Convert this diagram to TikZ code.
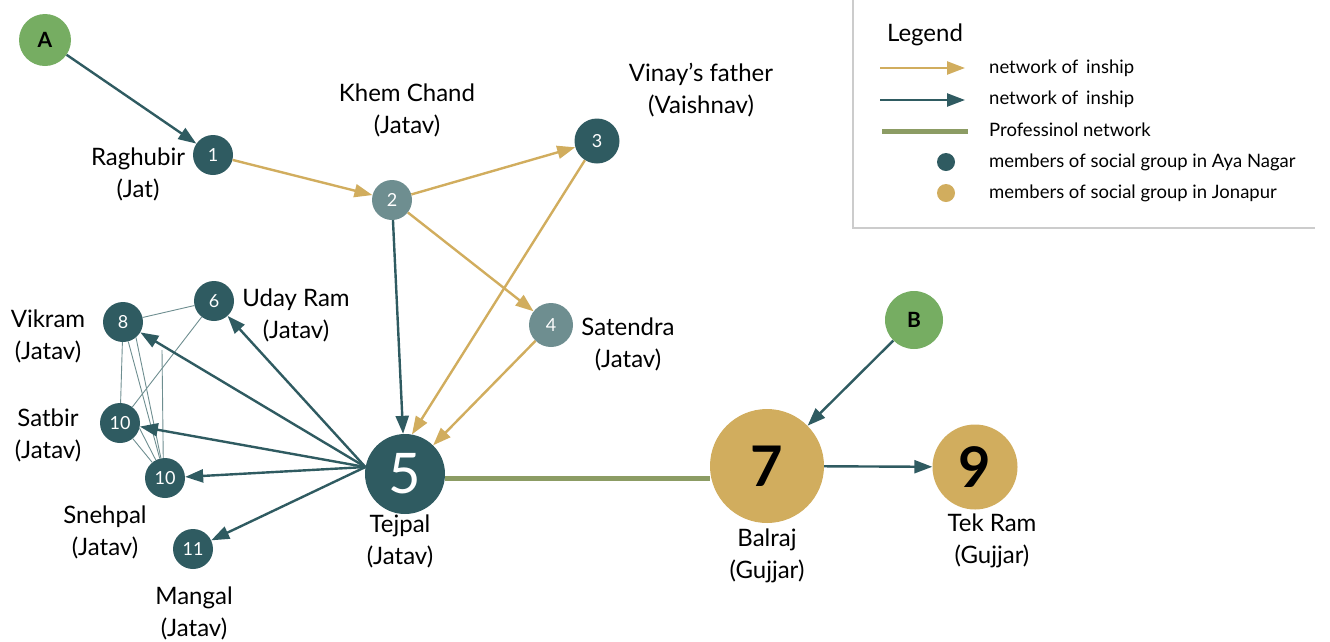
\documentclass[tikz,border=0pt]{standalone}
\usepackage{fontspec}
\setmainfont{Lato}
\usetikzlibrary{arrows.meta,positioning}
\definecolor{ayateal}{HTML}{2F5B61}
\definecolor{ayagrey}{HTML}{6E8E90}
\definecolor{jonagold}{HTML}{D1AD5E}
\definecolor{seedgreen}{HTML}{76AD62}
\definecolor{profgreen}{HTML}{8C9C64}
\definecolor{boxgrey}{HTML}{CCCCCC}
\begin{document}
\begin{tikzpicture}[x=1pt, y=-1pt,
        person/.style={circle, fill=ayateal, text=white, inner sep=0pt, minimum size=40pt, font=\fontsize{18}{18}\selectfont},
        guest/.style={person, fill=ayagrey},
        seed/.style={circle, fill=seedgreen, inner sep=0pt, font=\bfseries\fontsize{21}{21}\selectfont},
        big/.style={circle, inner sep=0pt, font=\fontsize{56}{56}\selectfont},
        who/.style={align=center, inner sep=0pt, font=\fontsize{24}{32}\selectfont},
        key/.style={anchor=west, inner sep=0pt, font=\fontsize{18.5}{19}\selectfont},
        kin/.style={-{Triangle[length=18pt,width=13pt]}, line width=2.4pt, jonagold},
        rel/.style={kin, ayateal},
        prof/.style={line width=5pt, profgreen},
        web/.style={line width=0.9pt, ayagrey}]
    \useasboundingbox (0,0) rectangle (1330,641);

    \node[seed, minimum size=52pt] (a) at (45,40) {A};
    \node[seed, minimum size=58pt] (b) at (914,320) {B};
    \node[person] (p1) at (213,155) {1};
    \node[guest] (p2) at (392,200) {2};
    \node[person, minimum size=45pt] (p3) at (597,141) {3};
    \node[guest, minimum size=44pt] (p4) at (551,325) {4};
    \node[big, fill=ayateal, text=white, minimum size=80pt] (p5) at (405,474) {5};
    \node[person] (p6) at (214,301) {6};
    \node[person] (p8) at (123,322) {8};
    \node[person] (p10a) at (120,423) {10};
    \node[person] (p10b) at (165,478) {10};
    \node[person] (p11) at (193,549) {11};
    \node[big, fill=jonagold, minimum size=114pt, font=\bfseries\fontsize{56}{56}\selectfont] (p7) at (767,466) {7};
    \node[big, fill=jonagold, minimum size=85pt, font=\bfseries\fontsize{56}{56}\selectfont] (p9) at (975,467) {9};

    \node[who] (n1) at (138,174) {Raghubir\\(Jat)};
    \node[who] (n2) at (407,110) {Khem Chand\\(Jatav)};
    \node[who] (n3) at (701,90) {Vinay’s father\\(Vaishnav)};
    \node[who] (n4) at (628,344) {Satendra\\(Jatav)};
    \node[who] (n5) at (400,541) {Tejpal\\(Jatav)};
    \node[who] (n6) at (296,315) {Uday Ram\\(Jatav)};
    \node[who] (n8) at (48,336) {Vikram\\(Jatav)};
    \node[who] (n10a) at (48,435) {Satbir\\(Jatav)};
    \node[who] (n10b) at (105,532) {Snehpal\\(Jatav)};
    \node[who] (n11) at (194,613) {Mangal\\(Jatav)};
    \node[who] (n7) at (767,556) {Balraj\\(Gujjar)};
    \node[who] (n9) at (992,541) {Tek Ram\\(Gujjar)};

    \coordinate (stub) at (162,350);
    \draw[web] (p8) -- (p6);
    \draw[web] (p8) -- (p10a);
    \draw[web] (p8) -- (p10b);
    \draw[web] (p8.-50) -- (p10b);
    \draw[web] (p6) -- (p10a);
    \draw[web] (p10a) -- (p10b);
    \draw[web] (p10a.-15) -- (p10b);
    \draw[web] (p10b.95) -- (stub);

    \draw[rel] (a) -- (p1);
    \draw[kin] (p1) -- (p2);
    \draw[kin] (p2) -- (p3);
    \draw[kin] (p2) -- (p4);
    \draw[rel] (p2) -- (p5);
    \draw[kin] (p3) -- (p5.80);
    \draw[kin] (p4) -- (p5);
    \draw[rel] (p5.170) -- (p6);
    \draw[rel] (p5.170) -- (p8);
    \draw[rel] (p5.170) -- (p10a);
    \draw[rel] (p5.170) -- (p10b);
    \draw[rel] (p5.170) -- (p11);
    \draw[prof] (p5.-6) -- (p5.-6 -| p7.west);
    \draw[rel] (b) -- (p7);
    \draw[rel] (p7) -- (p9);

    \draw[boxgrey, line width=1.2pt] (853,0) -- (853,228) -- (1315,228);
    \node[font=\fontsize{24}{24}\selectfont] (legend) at (925,35) {Legend};
    \coordinate (k1) at (880,68);
    \coordinate (k2) at (880,100);
    \coordinate (k3) at (882,131);
    \draw[kin] (k1) -- ++(85,0);
    \draw[rel] (k2) -- ++(85,0);
    \draw[prof] (k3) -- ++(86,0);
    \node[circle, fill=ayateal, inner sep=0pt, minimum size=18pt] (d1) at (946,162) {};
    \node[circle, fill=jonagold, inner sep=0pt, minimum size=18pt] (d2) at (946,193) {};
    \node[key] (t1) at (989,68) {network of\, inship};
    \node[key] (t2) at (989,99) {network of\, inship};
    \node[key] (t3) at (989,130) {Professinol network};
    \node[key] (t4) at (989,162) {members of social group in Aya Nagar};
    \node[key] (t5) at (989,193) {members of social group in Jonapur};
\end{tikzpicture}
\end{document}
